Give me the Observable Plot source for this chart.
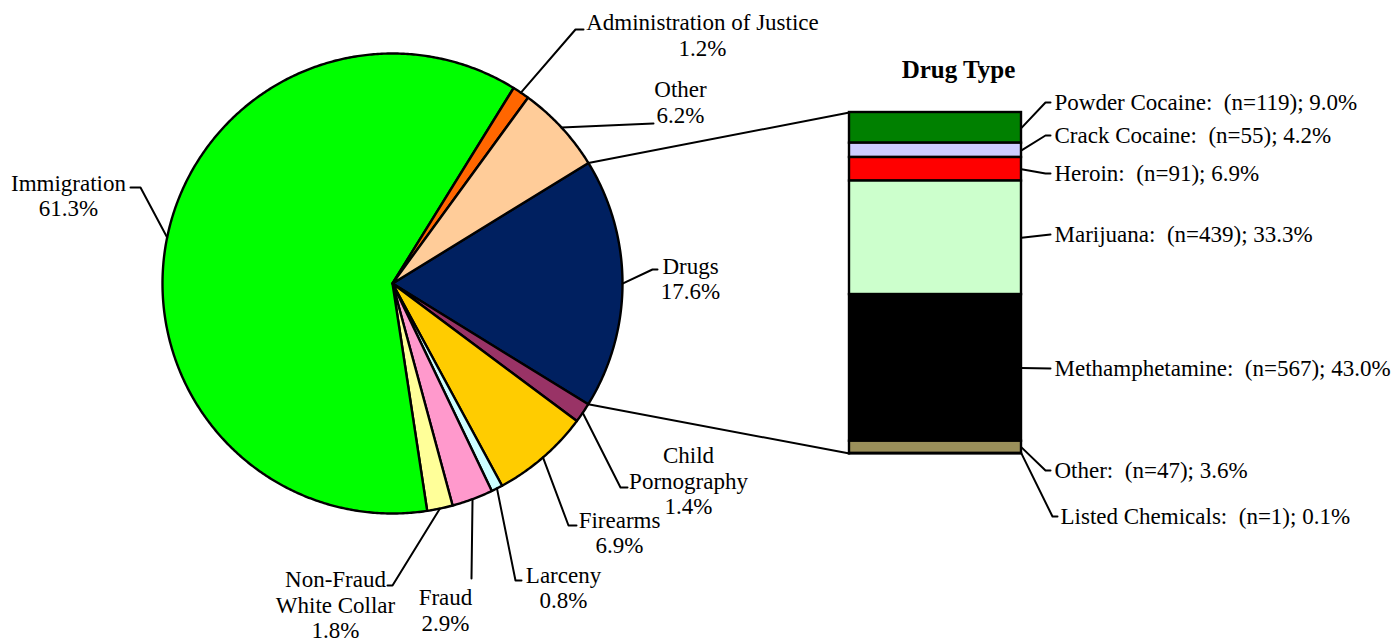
<!DOCTYPE html>
<html><head><meta charset="utf-8">
<script src="https://cdn.jsdelivr.net/npm/d3@7"></script>
<script src="https://cdn.jsdelivr.net/npm/@observablehq/plot@0.6"></script>
<style>body{margin:0;background:#fff}</style>
</head><body><div id="chart"></div>
<script>
// ---- data ----
const offenses = ["Drugs","Child Pornography","Firearms","Larceny","Fraud","Non-Fraud White Collar","Immigration","Administration of Justice","Other"];
const offenseLabels = ["Drugs","Child\nPornography","Firearms","Larceny","Fraud","Non-Fraud\nWhite Collar","Immigration","Administration of Justice","Other"];
const offensePct = [17.6,1.4,6.9,0.8,2.9,1.8,61.3,1.2,6.2];
const drugTypes = ["Powder Cocaine","Crack Cocaine","Heroin","Marijuana","Methamphetamine","Other","Listed Chemicals"];
const drugN = [119,55,91,439,567,47,1];
const drugPct = [9.0,4.2,6.9,33.3,43.0,3.6,0.1];
const barTitle = "Drug Type";

// ---- styles ----
const offenseColors = ["#002060","#993366","#FFCC00","#CCFFFF","#FF99CC","#FFFF99","#00FF00","#FF6600","#FFCC99"];
const drugColors = ["#008000","#CCCCFF","#FF0000","#CCFFCC","#000000","#9A8F5A","#808080"];
const FONT = "'Liberation Serif', 'Times New Roman', serif", FS = 23, LH = 1.11;

// ---- layout ----
const W = 1394, H = 642;
const CX = 392, CY = 283, R = 230, START = 58.4;
const BX0 = 849, BX1 = 1021, BTOP = 112, BBOT = 453;
// label centre, bend point, end point for each pie label
const pieLabelPos = [[690,278],[688,480],[619,532],[563,587],[445,609.5],[335,604],[68,195],[702,34.5],[680,101.5]];
const pieLeader = [[652,269,657,269],[620,487,627,487],[568,525,576,525],[515,580,521,580],[471,578,471,578],[392,585,387,585],[140,187,130,187],[575,29,583,29],[653,123,653,123]];
const barLabelY = [102,135,173,234,368,470,516];
const barLeader = [[1045,1050],[1045,1050],[1045,1050],[1050,1050],[1050,1050],[1045,1050],[1052,1057]];
const barLabelX = [1054,1054,1054,1054,1054,1054,1060];
const titlePos = [958, 69];

// ---- derived geometry ----
const rad = d => d * Math.PI / 180;
const polar = (deg, r = R) => [CX + r * Math.sin(rad(deg)), CY - r * Math.cos(rad(deg))];
const total = d3.sum(offensePct);
let acc = 0;
const slices = offenses.map((name, i) => {
  const a0 = START + acc / total * 360; acc += offensePct[i];
  const a1 = START + acc / total * 360;
  return {name, i, a0, a1, mid: (a0 + a1) / 2};
});
const piePts = [];
slices.forEach(s => {
  const c = offenseColors[s.i];
  piePts.push({k: s.name, x: CX, y: CY, c});
  const n = Math.max(2, Math.ceil((s.a1 - s.a0) / 0.5));
  for (let j = 0; j <= n; j++) {
    const [x, y] = polar(s.a0 + (s.a1 - s.a0) * j / n);
    piePts.push({k: s.name, x, y, c});
  }
});
const pieLeaderPts = [];
slices.forEach((s, i) => {
  const [x, y] = polar(s.mid);
  const L = pieLeader[i];
  pieLeaderPts.push({k: s.name, x, y}, {k: s.name, x: L[0], y: L[1]}, {k: s.name, x: L[2], y: L[3]});
});
const pieLabelData = slices.map((s, i) => ({
  x: pieLabelPos[i][0], y: pieLabelPos[i][1],
  text: offenseLabels[i] + "\n" + offensePct[i].toFixed(1) + "%"
}));

const scaleY = p => BTOP + p / 100 * (BBOT - BTOP);
let cum = 0;
const barData = drugTypes.map((name, i) => {
  const y1 = scaleY(cum); cum += drugPct[i]; const y2 = scaleY(cum);
  return {name, y1, y2, c: drugColors[i], mid: (y1 + y2) / 2};
});
const barLeaderPts = [];
barData.forEach((b, i) => {
  barLeaderPts.push({k: b.name, x: BX1, y: b.mid}, {k: b.name, x: barLeader[i][0], y: barLabelY[i]}, {k: b.name, x: barLeader[i][1], y: barLabelY[i]});
});
const barLabelData = barData.map((b, i) => ({
  x: barLabelX[i], y: barLabelY[i],
  text: `${drugTypes[i]}:\u00a0 (n=${drugN[i]}); ${drugPct[i].toFixed(1)}%`
}));
const drugSlice = slices[0];
const connPts = [
  {k: "top", x: polar(drugSlice.a0)[0], y: polar(drugSlice.a0)[1]}, {k: "top", x: BX0, y: scaleY(0)},
  {k: "bot", x: polar(drugSlice.a1)[0], y: polar(drugSlice.a1)[1]}, {k: "bot", x: BX0, y: scaleY(100)}
];

const chart = Plot.plot({
  width: W, height: H,
  margin: 0,
  x: {domain: [0, W], range: [0, W], axis: null},
  y: {domain: [0, H], range: [0, H], axis: null},
  color: {type: "identity"},
  marks: [
    Plot.line(connPts, {x: "x", y: "y", z: "k", stroke: "black", strokeWidth: 2}),
    Plot.line(piePts, {x: "x", y: "y", z: "k", fill: "c", stroke: "black", strokeWidth: 2.4, curve: "linear-closed", strokeLinejoin: "round"}),
    Plot.rect(barData, {x1: () => BX0, x2: () => BX1, y1: "y1", y2: "y2", fill: "c", stroke: "black", strokeWidth: 2.4}),
    Plot.line(pieLeaderPts, {x: "x", y: "y", z: "k", stroke: "black", strokeWidth: 2}),
    Plot.line(barLeaderPts, {x: "x", y: "y", z: "k", stroke: "black", strokeWidth: 2}),
    Plot.text(pieLabelData, {x: "x", y: "y", text: "text", fontSize: FS, fontFamily: FONT, lineHeight: LH, textAnchor: "middle", fill: "black"}),
    Plot.text(barLabelData, {x: "x", y: "y", text: "text", fontSize: FS, fontFamily: FONT, textAnchor: "start", fill: "black"}),
    Plot.text([barTitle], {x: () => titlePos[0], y: () => titlePos[1], text: d => d, fontSize: 25, fontWeight: "bold", fontFamily: FONT, fill: "black"})
  ]
});
document.getElementById("chart").appendChild(chart);
</script>
</body></html>
